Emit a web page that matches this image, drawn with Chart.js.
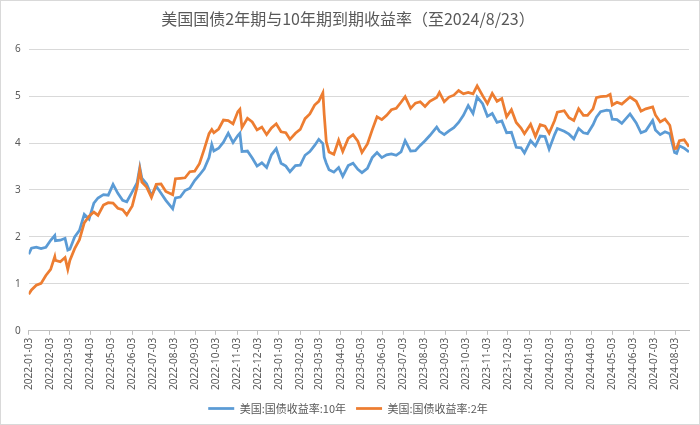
<!DOCTYPE html>
<html>
<head>
<meta charset="utf-8">
<script src="https://cdn.jsdelivr.net/npm/chart.js@4"></script>
<style>
  html, body { margin: 0; padding: 0; background: #fff; }
  #wrap { width: 700px; height: 425px; box-sizing: border-box; border: 1px solid #d9d9d9; position: relative; }
</style>
</head>
<body>
<div id="wrap"><canvas id="chart"></canvas></div>
<script>
// 数据（周度读数，来自参考图）
const dates = [
  "2022-01-03","2022-01-07","2022-01-14","2022-01-21","2022-01-28","2022-02-04","2022-02-10","2022-02-11",
  "2022-02-18","2022-02-25","2022-03-01","2022-03-04","2022-03-11","2022-03-18","2022-03-25","2022-04-01",
  "2022-04-08","2022-04-14","2022-04-22","2022-04-29","2022-05-06","2022-05-13","2022-05-20","2022-05-26",
  "2022-06-03","2022-06-10","2022-06-14","2022-06-17","2022-06-24","2022-07-01","2022-07-08","2022-07-15",
  "2022-07-22","2022-08-01","2022-08-05","2022-08-12","2022-08-19","2022-08-26","2022-09-02","2022-09-09",
  "2022-09-16","2022-09-23","2022-09-27","2022-09-30","2022-10-07","2022-10-14","2022-10-21","2022-10-28",
  "2022-11-04","2022-11-07","2022-11-10","2022-11-18","2022-11-25","2022-12-02","2022-12-09","2022-12-16",
  "2022-12-23","2022-12-30","2023-01-06","2023-01-13","2023-01-19","2023-01-27","2023-02-03","2023-02-10",
  "2023-02-17","2023-02-24","2023-03-02","2023-03-08","2023-03-10","2023-03-13","2023-03-17","2023-03-24",
  "2023-03-31","2023-04-06","2023-04-14","2023-04-21","2023-04-28","2023-05-04","2023-05-12","2023-05-19",
  "2023-05-26","2023-06-02","2023-06-09","2023-06-16","2023-06-23","2023-06-30","2023-07-06","2023-07-14",
  "2023-07-21","2023-07-28","2023-08-04","2023-08-11","2023-08-21","2023-08-25","2023-09-01","2023-09-08",
  "2023-09-15","2023-09-22","2023-09-29","2023-10-06","2023-10-13","2023-10-19","2023-10-27","2023-11-03",
  "2023-11-10","2023-11-17","2023-11-24","2023-12-01","2023-12-08","2023-12-15","2023-12-22","2023-12-27",
  "2024-01-05","2024-01-12","2024-01-19","2024-01-26","2024-02-01","2024-02-09","2024-02-13","2024-02-23",
  "2024-03-01","2024-03-08","2024-03-15","2024-03-22","2024-03-28","2024-04-05","2024-04-10","2024-04-16",
  "2024-04-25","2024-04-30","2024-05-03","2024-05-10","2024-05-17","2024-05-29","2024-06-07","2024-06-14",
  "2024-06-21","2024-07-01","2024-07-05","2024-07-12","2024-07-19","2024-07-26","2024-08-02","2024-08-05",
  "2024-08-09","2024-08-16","2024-08-23"
];

const y10 = [
  1.63,1.76,1.78,1.75,1.78,1.93,2.03,1.92,
  1.93,1.97,1.72,1.74,2.00,2.14,2.48,2.38,
  2.72,2.83,2.90,2.89,3.12,2.93,2.78,2.75,
  2.96,3.15,3.48,3.25,3.13,2.88,3.08,2.93,
  2.78,2.60,2.83,2.85,2.99,3.04,3.20,3.32,
  3.45,3.69,3.97,3.83,3.89,4.02,4.21,4.01,
  4.16,4.21,3.82,3.83,3.68,3.51,3.58,3.48,
  3.75,3.88,3.57,3.51,3.39,3.52,3.53,3.74,
  3.82,3.95,4.08,3.99,3.70,3.57,3.43,3.38,
  3.48,3.29,3.52,3.57,3.44,3.37,3.46,3.69,
  3.80,3.69,3.75,3.77,3.74,3.81,4.05,3.83,
  3.84,3.95,4.05,4.16,4.34,4.25,4.18,4.26,
  4.33,4.44,4.59,4.80,4.63,4.98,4.84,4.57,
  4.63,4.44,4.47,4.22,4.23,3.91,3.90,3.79,
  4.05,3.94,4.15,4.14,3.87,4.18,4.31,4.25,
  4.19,4.09,4.31,4.22,4.20,4.39,4.55,4.67,
  4.70,4.69,4.51,4.50,4.42,4.62,4.43,4.22,
  4.26,4.48,4.28,4.18,4.24,4.20,3.80,3.78,
  3.94,3.89,3.81
];

const y2 = [
  0.78,0.87,0.97,1.01,1.18,1.31,1.58,1.50,
  1.47,1.56,1.31,1.50,1.75,1.94,2.30,2.44,
  2.53,2.46,2.68,2.73,2.72,2.61,2.58,2.47,
  2.66,3.06,3.43,3.17,3.06,2.84,3.12,3.13,
  2.97,2.90,3.24,3.25,3.26,3.39,3.40,3.56,
  3.87,4.20,4.29,4.22,4.30,4.49,4.48,4.41,
  4.67,4.72,4.33,4.53,4.45,4.28,4.34,4.18,
  4.32,4.41,4.24,4.22,4.08,4.21,4.29,4.52,
  4.62,4.81,4.89,5.07,4.60,4.03,3.81,3.76,
  4.06,3.82,4.10,4.18,4.04,3.80,3.98,4.28,
  4.56,4.50,4.59,4.71,4.74,4.87,4.99,4.74,
  4.85,4.88,4.78,4.89,4.97,5.08,4.88,4.98,
  5.02,5.12,5.05,5.08,5.05,5.22,5.01,4.84,
  5.06,4.89,4.95,4.56,4.71,4.44,4.32,4.20,
  4.40,4.14,4.39,4.36,4.21,4.48,4.66,4.69,
  4.54,4.48,4.73,4.59,4.59,4.73,4.97,4.99,
  5.00,5.04,4.81,4.87,4.83,4.98,4.89,4.68,
  4.73,4.77,4.60,4.45,4.51,4.38,3.88,3.89,
  4.05,4.07,3.92
];

// x轴刻度标签（每月3日）
const tickLabels = [
  "2022-01-03","2022-02-03","2022-03-03","2022-04-03","2022-05-03","2022-06-03","2022-07-03","2022-08-03",
  "2022-09-03","2022-10-03","2022-11-03","2022-12-03","2023-01-03","2023-02-03","2023-03-03","2023-04-03",
  "2023-05-03","2023-06-03","2023-07-03","2023-08-03","2023-09-03","2023-10-03","2023-11-03","2023-12-03",
  "2024-01-03","2024-02-03","2024-03-03","2024-04-03","2024-05-03","2024-06-03","2024-07-03","2024-08-03"
];

const yTicks = [0, 1, 2, 3, 4, 5, 6];

const seriesNames = ["美国:国债收益率:10年", "美国:国债收益率:2年"];
const titleText = "美国国债2年期与10年期到期收益率（至2024/8/23）";

// 日期 -> 距起点天数
const t0 = Date.UTC(2022, 0, 3);
function dayOf(s) {
  const [y, m, d] = s.split("-").map(Number);
  return Math.round((Date.UTC(y, m - 1, d) - t0) / 864e5);
}

const tickDays = tickLabels.map(dayOf);
const labelByDay = {};
tickLabels.forEach((s, i) => { labelByDay[tickDays[i]] = s; });

function toPoints(vals) {
  return vals.map((v, i) => ({ x: dayOf(dates[i]), y: v }));
}

const gray = "#595959";

new Chart(document.getElementById("chart"), {
  type: "line",
  data: {
    datasets: [
      {
        label: seriesNames[0],
        data: toPoints(y10),
        borderColor: "#5B9BD5",
        backgroundColor: "#5B9BD5",
        borderWidth: 2.75,
        pointRadius: 0,
        tension: 0,
        order: 1
      },
      {
        label: seriesNames[1],
        data: toPoints(y2),
        borderColor: "#ED7D31",
        backgroundColor: "#ED7D31",
        borderWidth: 2.75,
        pointRadius: 0,
        tension: 0,
        order: 0
      }
    ]
  },
  options: {
    responsive: true,
    maintainAspectRatio: false,
    animation: false,
    layout: { padding: { left: 6, right: 10, top: 0, bottom: 0 } },
    plugins: {
      title: {
        display: true,
        text: titleText,
        color: gray,
        font: { family: "'Noto Sans CJK SC', sans-serif", size: 16, weight: "normal" },
        padding: { top: 8, bottom: 21 }
      },
      legend: {
        position: "bottom",
        labels: {
          color: gray,
          font: { family: "'Noto Sans CJK SC', sans-serif", size: 11 },
          usePointStyle: true,
          pointStyle: "line",
          pointStyleWidth: 26,
          padding: 10,
          sort: (a, b) => a.datasetIndex - b.datasetIndex
        }
      },
      tooltip: { enabled: false }
    },
    scales: {
      x: {
        type: "linear",
        min: 0,
        max: dayOf(dates[dates.length - 1]),
        afterBuildTicks: (axis) => {
          axis.ticks = tickDays.map(v => ({ value: v }));
        },
        ticks: {
          autoSkip: false,
          minRotation: 90,
          maxRotation: 90,
          color: gray,
          font: { family: "'Noto Sans', sans-serif", size: 10 },
          callback: (v) => labelByDay[v] || ""
        },
        grid: { drawOnChartArea: false, color: "#bfbfbf", tickLength: 4 },
        border: { color: "#bfbfbf" }
      },
      y: {
        min: 0,
        max: 6,
        afterBuildTicks: (axis) => {
          axis.ticks = yTicks.map(v => ({ value: v }));
        },
        ticks: {
          color: gray,
          font: { family: "'Noto Sans', sans-serif", size: 10 },
          padding: 8
        },
        grid: { color: "#d9d9d9", drawTicks: false },
        border: { display: false }
      }
    }
  }
});
</script>
</body>
</html>
